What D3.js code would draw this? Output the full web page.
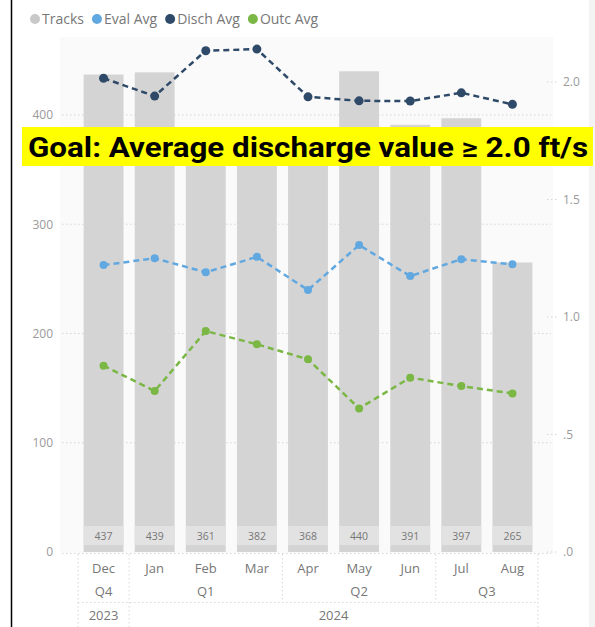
<!DOCTYPE html>
<html>
<head>
<meta charset="utf-8">
<script src="https://cdn.jsdelivr.net/npm/d3@7"></script>
<style>
  body { margin: 0; background: #fff; }
  text { font-family: "Open Sans", "Noto Sans", sans-serif; }
</style>
</head>
<body>
<div id="chart"></div>
<script>
// data
var months = ['Dec', 'Jan', 'Feb', 'Mar', 'Apr', 'May', 'Jun', 'Jul', 'Aug'];
var quarters = [
    { label: 'Q4', from: 'Dec', to: 'Dec' },
    { label: 'Q1', from: 'Jan', to: 'Mar' },
    { label: 'Q2', from: 'Apr', to: 'Jun' },
    { label: 'Q3', from: 'Jul', to: 'Aug' }
];
var years = [
    { label: '2023', from: 'Dec', to: 'Dec' },
    { label: '2024', from: 'Jan', to: 'Aug' }
];
var tracks = [437, 439, 361, 382, 368, 440, 391, 397, 265];
var evalAvg = [1.221, 1.250, 1.190, 1.256, 1.115, 1.306, 1.174, 1.246, 1.224];
var dischAvg = [2.016, 1.940, 2.133, 2.140, 1.937, 1.920, 1.919, 1.954, 1.905];
var outcAvg = [0.793, 0.685, 0.940, 0.884, 0.820, 0.611, 0.742, 0.706, 0.675];
var leftTicks = [0, 100, 200, 300, 400];
var rightTicks = [0, 0.5, 1.0, 1.5, 2.0];
var goalText = 'Goal: Average discharge value \u2265 2.0 ft/s';

var series = [
    { name: 'Eval Avg', values: evalAvg, color: '#62a8e0', r: 4 },
    { name: 'Disch Avg', values: dischAvg, color: '#2e4a68', r: 4.5 },
    { name: 'Outc Avg', values: outcAvg, color: '#7ab744', r: 4 }
];

var svgWidth = 595;
var svgHeight = 627;

var svg = d3.select('#chart')
    .append('svg')
    .attr('width', svgWidth)
    .attr('height', svgHeight);

// frame pieces
svg.append('rect')
    .attr('x', 589).attr('y', 0)
    .attr('width', 6).attr('height', svgHeight)
    .attr('fill', '#f3f3f3');

svg.append('rect')
    .attr('x', 60).attr('y', 37)
    .attr('width', 493).attr('height', 516)
    .attr('fill', '#fafafa');

svg.append('line')
    .attr('x1', 11.5).attr('x2', 11.5)
    .attr('y1', 0).attr('y2', svgHeight)
    .attr('stroke', '#000')
    .attr('stroke-width', 1.5);

// scales
var xScale = d3.scaleBand()
    .domain(months)
    .range([78, 538])
    .paddingInner(0.22)
    .paddingOuter(0.11);

var yLeft = d3.scaleLinear()
    .domain([0, 462.2])
    .range([552, 47]);

var yRight = d3.scaleLinear()
    .domain([0, 2.149])
    .range([552, 47]);

var cx = function(m) { return xScale(m) + xScale.bandwidth() / 2; };

// left gridlines
svg.append('g')
    .selectAll('line')
    .data(leftTicks.filter(function(d) { return d > 0; }))
    .enter()
    .append('line')
    .attr('x1', 62).attr('x2', 551)
    .attr('y1', d => yLeft(d)).attr('y2', d => yLeft(d))
    .attr('stroke', '#d6d6d6')
    .attr('stroke-dasharray', '1.5,2.5');

// left axis
var leftAxis = d3.axisLeft(yLeft)
    .tickValues(leftTicks)
    .tickSize(0)
    .tickPadding(0);

var leftG = svg.append('g')
    .attr('transform', 'translate(53,0)')
    .call(leftAxis);
leftG.select('.domain').remove();
leftG.selectAll('text')
    .attr('fill', '#9a9a9a')
    .style('font-size', '12px');

// right axis
var fmtRight = function(d) {
    var s = d3.format('.1f')(d);
    return d < 1 ? s.replace(/^0/, '') : s;
};
var rightAxis = d3.axisRight(yRight)
    .tickValues(rightTicks)
    .tickSize(0)
    .tickPadding(0)
    .tickFormat(fmtRight);

var rightG = svg.append('g')
    .attr('transform', 'translate(563,0)')
    .call(rightAxis);
rightG.select('.domain').remove();
rightG.selectAll('text')
    .attr('fill', '#9a9a9a')
    .style('font-size', '12px');

svg.append('g')
    .selectAll('line')
    .data(rightTicks)
    .enter()
    .append('line')
    .attr('x1', 547).attr('x2', 557)
    .attr('y1', d => yRight(d)).attr('y2', d => yRight(d))
    .attr('stroke', '#d6d6d6')
    .attr('stroke-dasharray', '1.5,2.5');

// bars
var bars = svg.append('g');
bars.selectAll('rect')
    .data(months)
    .enter()
    .append('rect')
    .attr('x', d => xScale(d))
    .attr('width', xScale.bandwidth())
    .attr('y', (d, i) => yLeft(tracks[i]))
    .attr('height', (d, i) => yLeft(0) - yLeft(tracks[i]))
    .attr('fill', '#d4d4d4');

// value boxes at bar foot
bars.selectAll('.valBox')
    .data(months)
    .enter()
    .append('rect')
    .attr('class', 'valBox')
    .attr('x', d => xScale(d))
    .attr('width', xScale.bandwidth())
    .attr('y', 526)
    .attr('height', 19)
    .attr('fill', '#e2e2e2');

bars.selectAll('.valText')
    .data(months)
    .enter()
    .append('text')
    .attr('class', 'valText')
    .attr('x', d => cx(d))
    .attr('y', 540)
    .attr('text-anchor', 'middle')
    .attr('fill', '#777')
    .style('font-size', '10.5px')
    .text((d, i) => tracks[i]);

// baseline
svg.append('line')
    .attr('x1', 62).attr('x2', 551)
    .attr('y1', 553.5).attr('y2', 553.5)
    .attr('stroke', '#d6d6d6')
    .attr('stroke-dasharray', '1.5,2.5');

// lines
var lineGen = d3.line()
    .x((d, i) => cx(months[i]))
    .y(d => yRight(d));

series.forEach(function(s) {
    var g = svg.append('g');
    g.append('path')
        .datum(s.values)
        .attr('d', lineGen)
        .attr('fill', 'none')
        .attr('stroke', s.color)
        .attr('stroke-width', 2.5)
        .attr('stroke-dasharray', '6,4');
    g.selectAll('circle')
        .data(s.values)
        .enter()
        .append('circle')
        .attr('cx', (d, i) => cx(months[i]))
        .attr('cy', d => yRight(d))
        .attr('r', s.r)
        .attr('fill', s.color);
});

// x axis: months, quarters, years
var step = xScale.step();
var gapHalf = step * xScale.paddingInner() / 2;
var leftEdge = function(m) { return xScale(m) - gapHalf; };
var rightEdge = function(m) { return xScale(m) + xScale.bandwidth() + gapHalf; };

var xAxisG = svg.append('g').attr('class', 'x-axis');

xAxisG.selectAll('.month')
    .data(months)
    .enter()
    .append('text')
    .attr('x', d => cx(d))
    .attr('y', 573)
    .attr('text-anchor', 'middle')
    .attr('fill', '#777')
    .style('font-size', '13px')
    .text(d => d);

xAxisG.selectAll('.quarter')
    .data(quarters)
    .enter()
    .append('text')
    .attr('x', d => (leftEdge(d.from) + rightEdge(d.to)) / 2)
    .attr('y', 596)
    .attr('text-anchor', 'middle')
    .attr('fill', '#777')
    .style('font-size', '13px')
    .text(d => d.label);

xAxisG.selectAll('.year')
    .data(years)
    .enter()
    .append('text')
    .attr('x', d => (leftEdge(d.from) + rightEdge(d.to)) / 2)
    .attr('y', 620)
    .attr('text-anchor', 'middle')
    .attr('fill', '#777')
    .style('font-size', '13px')
    .text(d => d.label);

// separators
var dotted = function(sel) {
    sel.attr('stroke', '#d6d6d6').attr('stroke-dasharray', '1.5,2.5');
};
quarters.forEach(function(q, i) {
    xAxisG.append('line')
        .attr('x1', leftEdge(q.from)).attr('x2', leftEdge(q.from))
        .attr('y1', 554).attr('y2', i === 0 || q.from === years[1].from ? 627 : 602)
        .call(dotted);
});
xAxisG.append('line')
    .attr('x1', rightEdge('Aug')).attr('x2', rightEdge('Aug'))
    .attr('y1', 554).attr('y2', 627)
    .call(dotted);
xAxisG.append('line')
    .attr('x1', leftEdge('Dec')).attr('x2', rightEdge('Aug'))
    .attr('y1', 602.5).attr('y2', 602.5)
    .call(dotted);

// legend
var legendItems = [{ name: 'Tracks', color: '#c8c8c8' }].concat(series);
var legend = svg.append('g').attr('transform', 'translate(35,19)');
var lx = 0;
legendItems.forEach(function(item) {
    legend.append('circle')
        .attr('cx', lx).attr('cy', 0)
        .attr('r', 5)
        .attr('fill', item.color);
    var t = legend.append('text')
        .attr('x', lx + 7)
        .attr('y', 5)
        .attr('fill', '#777')
        .style('font-size', '14px')
        .text(item.name);
    lx += 7 + t.node().getComputedTextLength() + 13;
});

// goal banner
svg.append('rect')
    .attr('x', 22).attr('y', 127)
    .attr('width', 571).attr('height', 39)
    .attr('fill', '#ffff00');

svg.append('text')
    .attr('x', 28)
    .attr('y', 157)
    .attr('fill', '#000')
    .attr('textLength', 560)
    .attr('lengthAdjust', 'spacingAndGlyphs')
    .style('font-family', 'Roboto, "Liberation Sans", sans-serif')
    .style('font-weight', 'bold')
    .style('font-size', '27px')
    .text(goalText);
</script>
</body>
</html>
